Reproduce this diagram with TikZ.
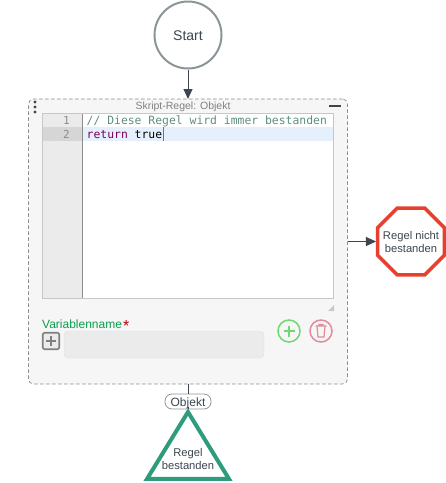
\documentclass[tikz,border=0pt]{standalone}
\usepackage{fontspec}
\setmainfont{Liberation Sans}
\setmonofont{DejaVu Sans Mono}
\usetikzlibrary{arrows.meta,shapes.geometric}
\definecolor{linedark}{HTML}{3C4650}
\definecolor{startgrey}{HTML}{8C9699}
\definecolor{failred}{HTML}{E8402F}
\definecolor{passgreen}{HTML}{2E9C7C}
\definecolor{boxfill}{HTML}{F6F6F6}
\definecolor{gutterfill}{HTML}{EBEBEB}
\definecolor{gutteractive}{HTML}{D6D6D6}
\definecolor{activeline}{HTML}{E6F0FC}
\definecolor{varfill}{HTML}{EBEBEB}
\definecolor{vargreen}{HTML}{0A9E50}
\definecolor{addgreen}{HTML}{70D870}
\definecolor{delred}{HTML}{E08C9C}
\definecolor{commentcol}{HTML}{5F8F80}
\definecolor{keywordcol}{HTML}{7A0055}
\tikzset{
  flowline/.style={draw=linedark, line width=1pt},
  flowarrow/.style={flowline, -{Triangle[width=9pt,length=10pt]}},
  smalltext/.style={font=\fontsize{11.2}{13}\selectfont, text=linedark, align=center, inner sep=0pt},
  codetext/.style={font=\ttfamily\fontsize{11.4}{13}\selectfont, anchor=base west, inner sep=0pt},
  linenum/.style={font=\ttfamily\fontsize{11}{13}\selectfont, text=black!45, anchor=base east, inner sep=0pt},
  roundbtn/.style={circle, minimum size=22pt, inner sep=0pt, line width=1.5pt, fill=boxfill}
}
\begin{document}
\begin{tikzpicture}[x=1pt, y=-1pt]
  \useasboundingbox (0,0) rectangle (446,483);

  % flow shapes
  \node[circle, draw=startgrey, line width=2pt, fill=white, minimum size=67pt, inner sep=0pt] (start) at (188,35) {};
  \node[text=linedark, font=\fontsize{14}{16}\selectfont, anchor=base, inner sep=0pt] (starttext) at (188,40) {Start};
  \node[draw=black!45, dash pattern=on 3.5pt off 2.5pt, fill=boxfill, rounded corners=5pt, line width=0.7pt,
    minimum width=319pt, minimum height=285pt, inner sep=0pt, outer sep=0pt] (scriptbox) at (188,241.5) {};
  \node[regular polygon, regular polygon sides=8, draw=failred, line width=3.5pt, fill=white,
    minimum size=72pt, inner sep=0pt] (fail) at (411,241.5) {};
  \node[smalltext] (failtext) at (411,241.5) {Regel nicht\\bestanden};
  \node[isosceles triangle, isosceles triangle stretches, shape border rotate=90, draw=passgreen,
    line width=4pt, fill=white, minimum width=82pt, minimum height=67pt, inner sep=0pt] (pass) at (188,456) {};
  \node[smalltext] (passtext) at (188,458.5) {Regel\\bestanden};
  \node[draw=startgrey, fill=white, rounded corners=7pt, line width=0.8pt, minimum width=46pt, minimum height=15pt,
    inner sep=0pt] (objekt) at (188,401.5) {};
  \node[text=linedark, font=\fontsize{12}{14}\selectfont, anchor=base, inner sep=0pt] (objekttext) at (188,406) {Objekt};

  \draw[flowarrow] (start) -- (scriptbox);
  \draw[flowarrow] (scriptbox) -- (fail);
  \draw[flowline] (scriptbox) -- (objekt);
  \draw[flowline] (objekt) -- (pass.apex);

  % box header
  \node[font=\fontsize{10.5}{12}\selectfont, text=black!50, inner sep=0pt] (title) at (183,107) {Skript-Regel: Objekt};
  \foreach \y in {102,107,112}{\fill[linedark] (35,\y) circle (1.7pt);}
  \draw[linedark, line width=1.5pt] (329,106) -- (341,106);

  % editor
  \fill[white] (42,113) rectangle (333,298);
  \fill[gutterfill] (42,113) rectangle (82,298);
  \fill[activeline] (83,127) rectangle (333,141);
  \fill[gutteractive] (42,127) rectangle (82,141);
  \draw[black!45] (82.5,113) -- (82.5,298);
  \draw[black!22] (42,113) rectangle (333,298);
  \node[linenum] (num1) at (70,124) {1};
  \node[linenum] (num2) at (70,138) {2};
  \node[codetext, text=commentcol] (code1) at (86.5,124) {// Diese Regel wird immer bestanden};
  \node[codetext] (code2) at (86.5,138) {\textcolor{keywordcol}{return} true};
  \draw[black!55, line width=0.8pt] (163,127) -- (163,141);
  \fill[black!22] (334,305) -- (334,311) -- (328,311) -- cycle;

  % variable row
  \node[font=\fontsize{12}{14}\selectfont, text=vargreen, anchor=base west, inner sep=0pt] (varlabel) at (42,328) {Variablenname};
  \node[font=\fontsize{16}{14}\selectfont, text=red!75!black, anchor=base west, inner sep=0pt] (varstar) at (123,331) {*};
  \node[draw=black!50, fill=black!8, line width=1.6pt, rounded corners=1.5pt, minimum size=16.5pt, inner sep=0pt] (plusbtn) at (51,341) {};
  \draw[black!50, line width=1.3pt] (46,341) -- (56,341) (51,336) -- (51,346);
  \node[draw=black!12, fill=varfill, rounded corners=4pt, minimum width=200pt, minimum height=27pt, inner sep=0pt] (varinput) at (164,344.5) {};

  \node[roundbtn, draw=addgreen] (addbtn) at (289,331) {};
  \draw[addgreen, line width=1.2pt] (283.5,331) -- (294.5,331) (289,325.5) -- (289,336.5);
  \node[roundbtn, draw=delred] (delbtn) at (321,331) {};
  \draw[delred, line width=1.2pt] (315.5,326) -- (326.5,326) (319,326) -- (319,324.5) -- (323,324.5) -- (323,326)
    (317,326) -- (318,337) -- (324,337) -- (325,326);
\end{tikzpicture}
\end{document}
